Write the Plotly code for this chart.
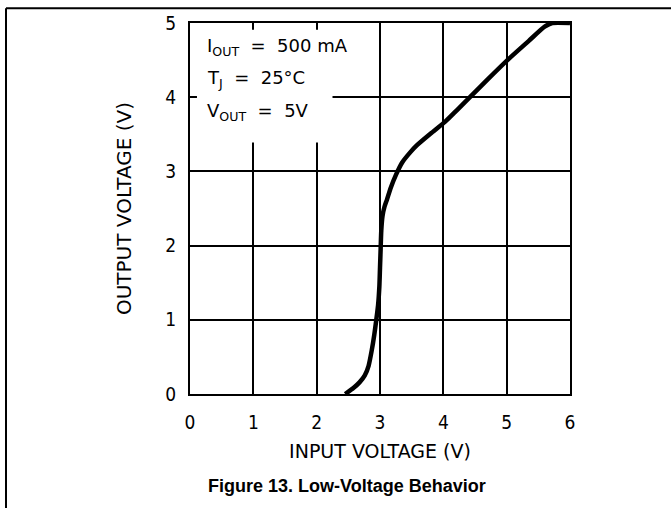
import plotly.graph_objects as go

# Input voltage (V) and output voltage (V)
vin = [2.45, 2.58, 2.68, 2.76, 2.82, 2.87, 2.91, 2.94, 2.97, 2.99, 3.00, 3.01, 3.02, 3.04,
       3.07, 3.11, 3.17, 3.25, 3.35, 3.47, 3.58, 3.80, 4.03, 4.22, 4.42, 4.70, 5.05, 5.35, 5.60, 5.72, 6.00]
vout = [0.00, 0.08, 0.16, 0.25, 0.38, 0.59, 0.80, 0.99, 1.20, 1.45, 1.70, 1.95, 2.20, 2.40,
        2.52, 2.62, 2.78, 2.95, 3.12, 3.25, 3.35, 3.51, 3.67, 3.83, 4.00, 4.24, 4.53, 4.76, 4.95, 5.00, 5.00]

x_ticks = [0, 1, 2, 3, 4, 5, 6]
y_ticks = [0, 1, 2, 3, 4, 5]

cond_lines = ["I<sub>OUT</sub>  =  500 mA", "T<sub>J</sub>  =  25°C", "V<sub>OUT</sub>  =  5V"]

TICKFONT = "DejaVu Sans Condensed, DejaVu Sans, sans-serif"
FONT = "DejaVu Sans, sans-serif"

fig = go.Figure()
fig.add_trace(go.Scatter(x=vin, y=vout, mode="lines",
                         line=dict(color="black", width=4.5, shape="spline", smoothing=0.6),
                         showlegend=False, hoverinfo="skip"))

axis_common = dict(showline=True, linecolor="black", linewidth=2, mirror=True,
                   showgrid=True, gridcolor="black", gridwidth=1.5,
                   zeroline=False, ticks="", tickfont=dict(family=TICKFONT, size=19, color="black"))

fig.update_xaxes(range=[0, 6], tickvals=x_ticks, ticktext=[str(v) for v in x_ticks],
                 title=dict(text="INPUT VOLTAGE (V)", font=dict(family=FONT, size=19, color="black"),
                            standoff=13),
                 ticklabelstandoff=10, **axis_common)
fig.update_yaxes(range=[0, 5], tickvals=y_ticks, ticktext=[str(v) for v in y_ticks],
                 title=dict(text="OUTPUT VOLTAGE (V)", font=dict(family=FONT, size=20, color="black"),
                            standoff=28),
                 ticklabelstandoff=8, **axis_common)

# white box behind the condition text
fig.add_shape(type="rect", xref="x", yref="y", x0=0.11, x1=2.25, y0=3.39, y1=4.91,
              fillcolor="white", line=dict(width=0), layer="above")

for i, t in enumerate(cond_lines):
    fig.add_annotation(xref="paper", yref="paper", x=(205 - 190) / 380, y=(394 - (43 + 33 * i)) / 375,
                       text=t, showarrow=False, xanchor="left", yanchor="middle",
                       font=dict(family=FONT, size=18, color="black"))

fig.add_annotation(xref="paper", yref="paper", x=(347 - 190) / 380, y=(394 - 487) / 375,
                   text="<b>Figure 13. Low-Voltage Behavior</b>", showarrow=False,
                   xanchor="center", yanchor="middle",
                   font=dict(family="Liberation Sans, Arial, sans-serif", size=18, color="black"))

# page frame (top and left edges)
fig.add_shape(type="line", xref="paper", yref="paper", x0=(6 - 190) / 380, x1=(671 - 190) / 380,
              y0=(394 - 4) / 375, y1=(394 - 4) / 375, line=dict(color="black", width=2))
fig.add_shape(type="line", xref="paper", yref="paper", x0=(6 - 190) / 380, x1=(6 - 190) / 380,
              y0=(394 - 4) / 375, y1=(394 - 520) / 375, line=dict(color="black", width=2))

fig.update_layout(width=671, height=508, margin=dict(l=190, r=101, t=19, b=114),
                  paper_bgcolor="white", plot_bgcolor="white")

fig.write_html("out.html", config={"displayModeBar": False},
               post_script="document.body.style.margin='0';document.body.style.overflow='hidden';")
